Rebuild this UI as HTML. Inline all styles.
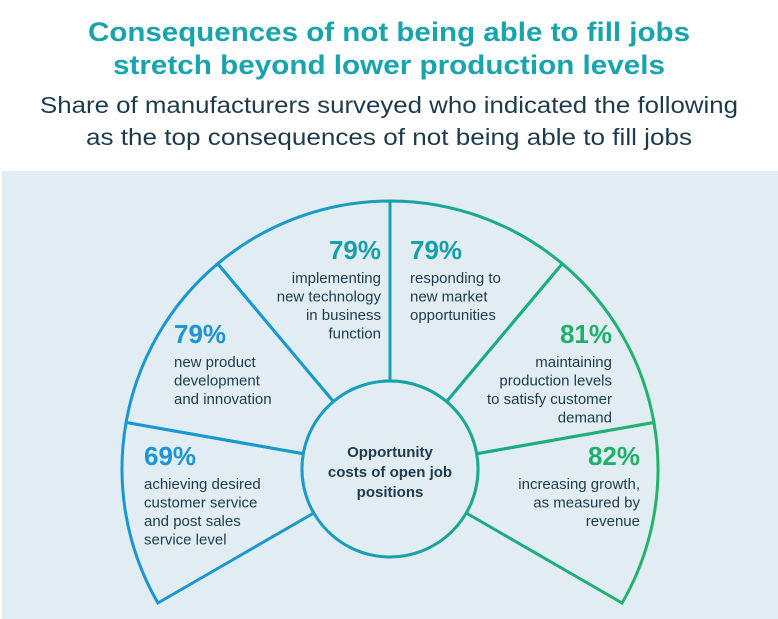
<!DOCTYPE html>
<html><head><meta charset="utf-8"><style>
html,body{margin:0;padding:0;background:#fff;}
svg{display:block;font-family:"Liberation Sans",sans-serif;}
</style></head><body>
<svg id="chart" width="778" height="619" viewBox="0 0 778 619" xmlns="http://www.w3.org/2000/svg">
<defs>
<linearGradient id="ringGrad" x1="120" y1="0" x2="660" y2="0" gradientUnits="userSpaceOnUse">
<stop offset="0" stop-color="#1b95d5"/><stop offset="0.35" stop-color="#1a9bc8"/>
<stop offset="0.5" stop-color="#17a1aa"/><stop offset="0.7" stop-color="#1aab86"/><stop offset="1" stop-color="#22b46a"/>
</linearGradient>
</defs>
<text x="389" y="41" text-anchor="middle" font-size="27" font-weight="bold" fill="#16a4ad" textLength="602" lengthAdjust="spacingAndGlyphs">Consequences of not being able to fill jobs</text>
<text x="389" y="74" text-anchor="middle" font-size="27" font-weight="bold" fill="#16a4ad" textLength="552" lengthAdjust="spacingAndGlyphs">stretch beyond lower production levels</text>
<text x="389" y="113" text-anchor="middle" font-size="23" fill="#1d3b4b" textLength="698" lengthAdjust="spacingAndGlyphs">Share of manufacturers surveyed who indicated the following</text>
<text x="389" y="145" text-anchor="middle" font-size="23" fill="#1d3b4b" textLength="606" lengthAdjust="spacingAndGlyphs">as the top consequences of not being able to fill jobs</text>
<rect x="2" y="171" width="776" height="448" fill="#e2ecf3"/>
<g id="fan"></g>
</svg>
<script>
const categories = [
  ["achieving desired","customer service","and post sales","service level"],
  ["new product","development","and innovation"],
  ["implementing","new technology","in business","function"],
  ["responding to","new market","opportunities"],
  ["maintaining","production levels","to satisfy customer","demand"],
  ["increasing growth,","as measured by","revenue"]
];
const values = [69, 79, 79, 79, 81, 82];
const valueColors = ["#1b95d5","#1b95d5","#16a0a8","#16a0a8","#1fb06c","#1fb06c"];
const centerLabel = ["Opportunity","costs of open job","positions"];

const NS = "http://www.w3.org/2000/svg";
const fan = document.getElementById('fan');
const cx = 390, cy = 469, rIn = 88, rOut = 268;
const startDeg = 210, span = 240;
const n = values.length;
const step = span / n;
function pt(r, deg){ const a = deg*Math.PI/180; return [cx + r*Math.cos(a), cy - r*Math.sin(a)]; }
function mk(tag, attrs){ const e = document.createElementNS(NS, tag); for (const k in attrs) e.setAttribute(k, attrs[k]); return e; }

// wedges
for (let i = 0; i < n; i++) {
  const a0 = startDeg - i*step, a1 = startDeg - (i+1)*step;
  const p0 = pt(rIn, a0), p1 = pt(rOut, a0), p2 = pt(rOut, a1), p3 = pt(rIn, a1);
  const d = `M${p0[0]},${p0[1]} L${p1[0]},${p1[1]} A${rOut},${rOut} 0 0 1 ${p2[0]},${p2[1]} L${p3[0]},${p3[1]} A${rIn},${rIn} 0 0 0 ${p0[0]},${p0[1]} Z`;
  const w = mk('path', {d: d, fill: 'none', stroke: 'url(#ringGrad)', 'stroke-width': 3, 'stroke-linejoin': 'miter'});
  
  
  fan.appendChild(w);
}
const ring = mk('circle', {cx: cx, cy: cy, r: rIn, fill: '#e2ecf3', stroke: 'url(#ringGrad)', 'stroke-width': 3});


fan.appendChild(ring);

// label layout (anchor x, percent baseline, anchor side) per segment
const layout = [
  {x:144, y:465, a:'start'},
  {x:174, y:343, a:'start'},
  {x:381, y:259, a:'end'},
  {x:410, y:259, a:'start'},
  {x:612, y:343, a:'end'},
  {x:640, y:465, a:'end'}
];
for (let i = 0; i < n; i++) {
  const L = layout[i];
  const g = mk('g', {});
  
  
  const v = mk('text', {x: L.x, y: L.y, 'text-anchor': L.a, 'font-size': 26, 'font-weight': 'bold', fill: valueColors[i]});
  
  
  v.textContent = values[i] + '%';
  g.appendChild(v);
  categories[i].forEach((line, j) => {
    const t = mk('text', {x: L.x, y: L.y + 24 + j*18.5, 'text-anchor': L.a, 'font-size': 15, fill: '#1d3b4b'});
    
    
    t.textContent = line;
    g.appendChild(t);
  });
  fan.appendChild(g);
}
centerLabel.forEach((line, j) => {
  const t = mk('text', {x: cx, y: 457 + j*20, 'text-anchor': 'middle', 'font-size': 15, 'font-weight': 'bold', fill: '#1d3b4b'});
  
  
  t.textContent = line;
  fan.appendChild(t);
});
</script>
</body></html>
